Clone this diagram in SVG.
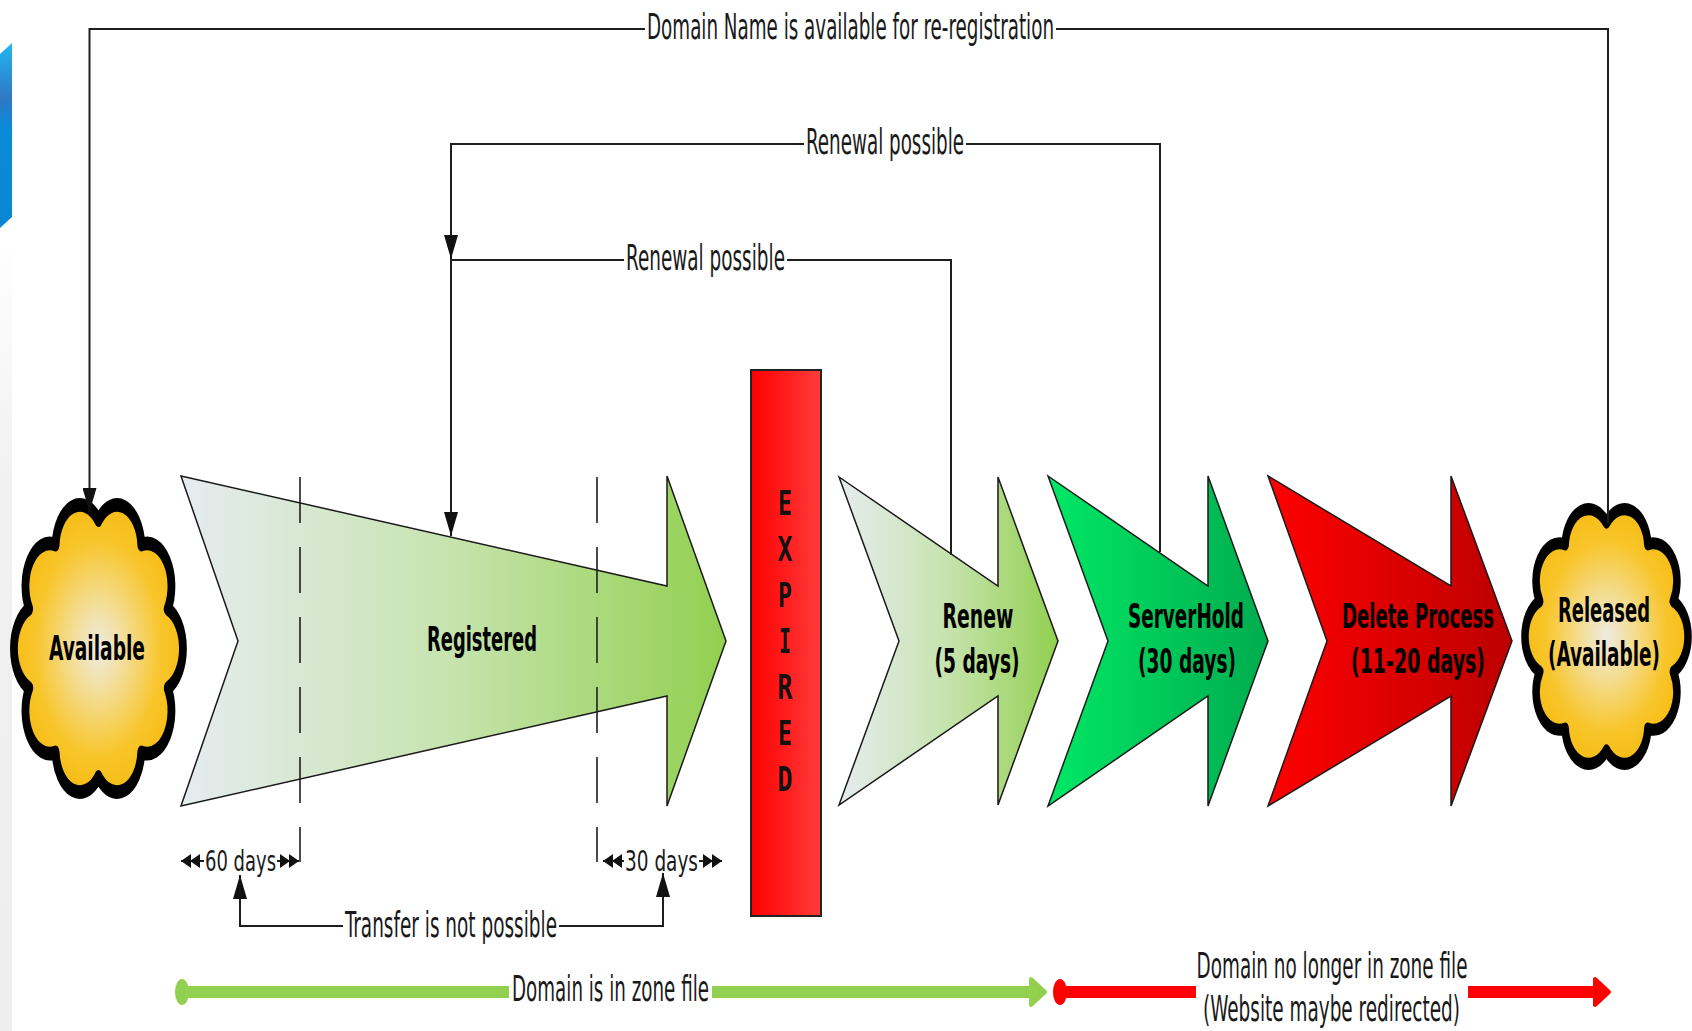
<svg xmlns="http://www.w3.org/2000/svg" width="1692" height="1031" viewBox="0 0 1692 1031">
  <style>
    .conn { fill: none; stroke: #1e1e1e; stroke-width: 2; }
    .dash { fill: none; stroke: #1e1e1e; stroke-width: 1.6; stroke-dasharray: 46 24; }
    .lbl { font-family: "DejaVu Sans", "Liberation Sans", sans-serif; font-stretch: condensed; font-size: 36px; fill: #1a1a1a; text-anchor: middle; }
    .small { font-size: 29px; }
    .nl { font-family: "DejaVu Sans", "Liberation Sans", sans-serif; font-stretch: condensed; font-weight: bold; font-size: 34px; fill: #000; text-anchor: middle; }
    .exp { font-family: "DejaVu Sans Mono", "Liberation Mono", monospace; font-weight: bold; font-size: 33px; fill: #111; text-anchor: middle; }
    .chev { stroke: #1a1a1a; stroke-width: 1.5; stroke-linejoin: miter; }
    .cloud { stroke: #000; stroke-width: 4.5; stroke-linejoin: round; }
  </style>
  <defs>
    <linearGradient id="gReg" x1="0" y1="0" x2="1" y2="0">
      <stop offset="0" stop-color="#e6ecf0"/>
      <stop offset="0.5" stop-color="#c6e3ad"/>
      <stop offset="1" stop-color="#92d050"/>
    </linearGradient>
    <linearGradient id="gHold" x1="0" y1="0" x2="1" y2="0">
      <stop offset="0" stop-color="#00e866"/>
      <stop offset="1" stop-color="#00ac4e"/>
    </linearGradient>
    <linearGradient id="gDel" x1="0" y1="0" x2="1" y2="0">
      <stop offset="0" stop-color="#ff0000"/>
      <stop offset="1" stop-color="#bc0000"/>
    </linearGradient>
    <linearGradient id="gExp" x1="0" y1="0" x2="1" y2="0">
      <stop offset="0" stop-color="#ff0000"/>
      <stop offset="1" stop-color="#ff3c3c"/>
    </linearGradient>
    <radialGradient id="gCloud" cx="0.5" cy="0.5" r="0.5">
      <stop offset="0" stop-color="#eeebe2"/>
      <stop offset="0.35" stop-color="#f4dc8e"/>
      <stop offset="0.75" stop-color="#f8c52a"/>
      <stop offset="1" stop-color="#f6bd16"/>
    </radialGradient>
    <linearGradient id="gBlue" x1="0" y1="0" x2="0" y2="1">
      <stop offset="0" stop-color="#22b6f2"/>
      <stop offset="0.3" stop-color="#2f78c4"/>
      <stop offset="0.45" stop-color="#0a8ad8"/>
      <stop offset="1" stop-color="#0a86d4"/>
    </linearGradient>
    <linearGradient id="gStrip" x1="0" y1="0" x2="0" y2="1">
      <stop offset="0" stop-color="#ffffff"/>
      <stop offset="0.3" stop-color="#f1f1f1"/>
      <stop offset="1" stop-color="#eeeeee"/>
    </linearGradient>
    <path id="cloudShape" d="M50,8 A14,14 0 0 1 74.69,16.02 A14,14 0 0 1 89.95,37.02 A14,14 0 0 1 89.95,62.98 A14,14 0 0 1 74.69,83.98 A14,14 0 0 1 50,92 A14,14 0 0 1 25.31,83.98 A14,14 0 0 1 10.05,62.98 A14,14 0 0 1 10.05,37.02 A14,14 0 0 1 25.31,16.02 A14,14 0 0 1 50,8 Z"/>
    <marker id="arr" viewBox="0 0 24 14" refX="24" refY="7" markerWidth="24" markerHeight="14" markerUnits="userSpaceOnUse" orient="auto-start-reverse">
      <path d="M0,0 L24,7 L0,14 Z" fill="#111"/>
    </marker>
    <marker id="dbl" viewBox="0 0 19 14" refX="19" refY="7" markerWidth="19" markerHeight="14" markerUnits="userSpaceOnUse" orient="auto-start-reverse">
      <path d="M0,0 L10,7 L0,14 Z M9,0 L19,7 L9,14 Z" fill="#111"/>
    </marker>
  </defs>

  <rect width="1692" height="1031" fill="#ffffff"/>
  <!-- background fragments at left edge -->
  <rect x="0" y="240" width="12" height="791" fill="url(#gStrip)"/>
  <polygon points="0,54 12,43 12,217 0,228" fill="url(#gBlue)"/>

  <!-- nodes -->
  <g id="available">
    <g transform="translate(11.7,495.7) scale(1.735,3.056)">
      <use href="#cloudShape" class="cloud" fill="url(#gCloud)" vector-effect="non-scaling-stroke"/>
    </g>
    <text class="nl" x="97" y="660" textLength="96" lengthAdjust="spacingAndGlyphs">Available</text>
  </g>

  <g id="registered">
    <path class="chev" fill="url(#gReg)" d="M181,476 L667,586 L667,476 L726,641 L667,806 L667,696 L181,806 L238,641 Z"/>
    <text class="nl" x="482" y="651" textLength="110" lengthAdjust="spacingAndGlyphs">Registered</text>
    <line class="dash" x1="300" y1="477" x2="300" y2="862"/>
    <line class="dash" x1="597" y1="477" x2="597" y2="862"/>
  </g>

  <g id="expired">
    <rect x="751" y="370" width="70" height="546" fill="url(#gExp)" stroke="#222" stroke-width="2"/>
    <text class="exp" x="785" y="515" textLength="14" lengthAdjust="spacingAndGlyphs">E</text>
    <text class="exp" x="785" y="561" textLength="15" lengthAdjust="spacingAndGlyphs">X</text>
    <text class="exp" x="785" y="607" textLength="14" lengthAdjust="spacingAndGlyphs">P</text>
    <text class="exp" x="785" y="653" textLength="12" lengthAdjust="spacingAndGlyphs">I</text>
    <text class="exp" x="785" y="699" textLength="15" lengthAdjust="spacingAndGlyphs">R</text>
    <text class="exp" x="785" y="745" textLength="14" lengthAdjust="spacingAndGlyphs">E</text>
    <text class="exp" x="785" y="791" textLength="15" lengthAdjust="spacingAndGlyphs">D</text>
  </g>

  <g id="renew">
    <path class="chev" fill="url(#gReg)" d="M839,477 L998,586 L998,477 L1058,641 L998,805 L998,696 L839,805 L899,641 Z"/>
    <text class="nl" x="978" y="628" textLength="71" lengthAdjust="spacingAndGlyphs">Renew</text>
    <text class="nl" x="977" y="673" textLength="85" lengthAdjust="spacingAndGlyphs">(5 days)</text>
  </g>

  <g id="serverhold">
    <path class="chev" fill="url(#gHold)" d="M1048,476 L1208,586 L1208,476 L1268,641 L1208,806 L1208,696 L1048,806 L1108,641 Z"/>
    <text class="nl" x="1186" y="628" textLength="116" lengthAdjust="spacingAndGlyphs">ServerHold</text>
    <text class="nl" x="1187" y="673" textLength="98" lengthAdjust="spacingAndGlyphs">(30 days)</text>
  </g>

  <g id="delete">
    <path class="chev" fill="url(#gDel)" d="M1268,476 L1451,586 L1451,476 L1512,641 L1451,806 L1451,696 L1268,806 L1327,641 Z"/>
    <text class="nl" x="1418" y="628" textLength="152" lengthAdjust="spacingAndGlyphs">Delete Process</text>
    <text class="nl" x="1418" y="673" textLength="134" lengthAdjust="spacingAndGlyphs">(11-20 days)</text>
  </g>

  <g id="released">
    <g transform="translate(1522.8,501) scale(1.674,2.71)">
      <use href="#cloudShape" class="cloud" fill="url(#gCloud)" vector-effect="non-scaling-stroke"/>
    </g>
    <text class="nl" x="1604" y="622" textLength="92" lengthAdjust="spacingAndGlyphs">Released</text>
    <text class="nl" x="1604" y="666" textLength="112" lengthAdjust="spacingAndGlyphs">(Available)</text>
  </g>

  <!-- connectors -->
  <g id="connectors">
    <path class="conn" d="M1608,523 V29 H1056"/>
    <path class="conn" d="M645,29 H89.5 V512" marker-end="url(#arr)"/>
    <path class="conn" d="M1160,552 V144 H966"/>
    <path class="conn" d="M804,144 H451 V259" marker-end="url(#arr)"/>
    <path class="conn" d="M951,555 V260 H787"/>
    <path class="conn" d="M624,260 H451 V536" marker-end="url(#arr)"/>
    <path class="conn" d="M240,875 V926 H343" marker-start="url(#arr)"/>
    <path class="conn" d="M559,926 H663 V873" marker-end="url(#arr)"/>
    <path class="conn" d="M181,861 H204" marker-start="url(#dbl)"/>
    <path class="conn" d="M277,861 H299" marker-end="url(#dbl)"/>
    <path class="conn" d="M603,861 H624" marker-start="url(#dbl)"/>
    <path class="conn" d="M699,861 H722" marker-end="url(#dbl)"/>
  </g>

  <!-- zone file bars -->
  <g id="zone-bars">
    <path d="M182,992 H509 M712,992 H1033" stroke="#92d050" stroke-width="12" fill="none"/>
    <ellipse cx="182" cy="992" rx="7" ry="13" fill="#92d050"/>
    <polygon points="1031,979 1045,992 1031,1005" fill="#92d050" stroke="#92d050" stroke-width="4" stroke-linejoin="round"/>
    <path d="M1060,992 H1196 M1468,992 H1597" stroke="#ff0000" stroke-width="12" fill="none"/>
    <ellipse cx="1060" cy="992" rx="7" ry="13" fill="#ff0000"/>
    <polygon points="1595,979 1609,992 1595,1005" fill="#ff0000" stroke="#ff0000" stroke-width="4" stroke-linejoin="round"/>
  </g>

  <!-- labels -->
  <g id="labels">
    <text class="lbl" x="850.5" y="39" textLength="407" lengthAdjust="spacingAndGlyphs">Domain Name is available for re-registration</text>
    <text class="lbl" x="885" y="154" textLength="158" lengthAdjust="spacingAndGlyphs">Renewal possible</text>
    <text class="lbl" x="705.5" y="270" textLength="159" lengthAdjust="spacingAndGlyphs">Renewal possible</text>
    <text class="lbl small" x="240.5" y="871" textLength="71" lengthAdjust="spacingAndGlyphs">60 days</text>
    <text class="lbl small" x="661.5" y="871" textLength="73" lengthAdjust="spacingAndGlyphs">30 days</text>
    <text class="lbl" x="451" y="937" textLength="212" lengthAdjust="spacingAndGlyphs">Transfer is not possible</text>
    <text class="lbl" x="610.5" y="1001" textLength="197" lengthAdjust="spacingAndGlyphs">Domain is in zone file</text>
    <text class="lbl" x="1332" y="978" textLength="271" lengthAdjust="spacingAndGlyphs">Domain no longer in zone file</text>
    <text class="lbl" x="1331.5" y="1021" textLength="257" lengthAdjust="spacingAndGlyphs">(Website maybe redirected)</text>
  </g>
</svg>
